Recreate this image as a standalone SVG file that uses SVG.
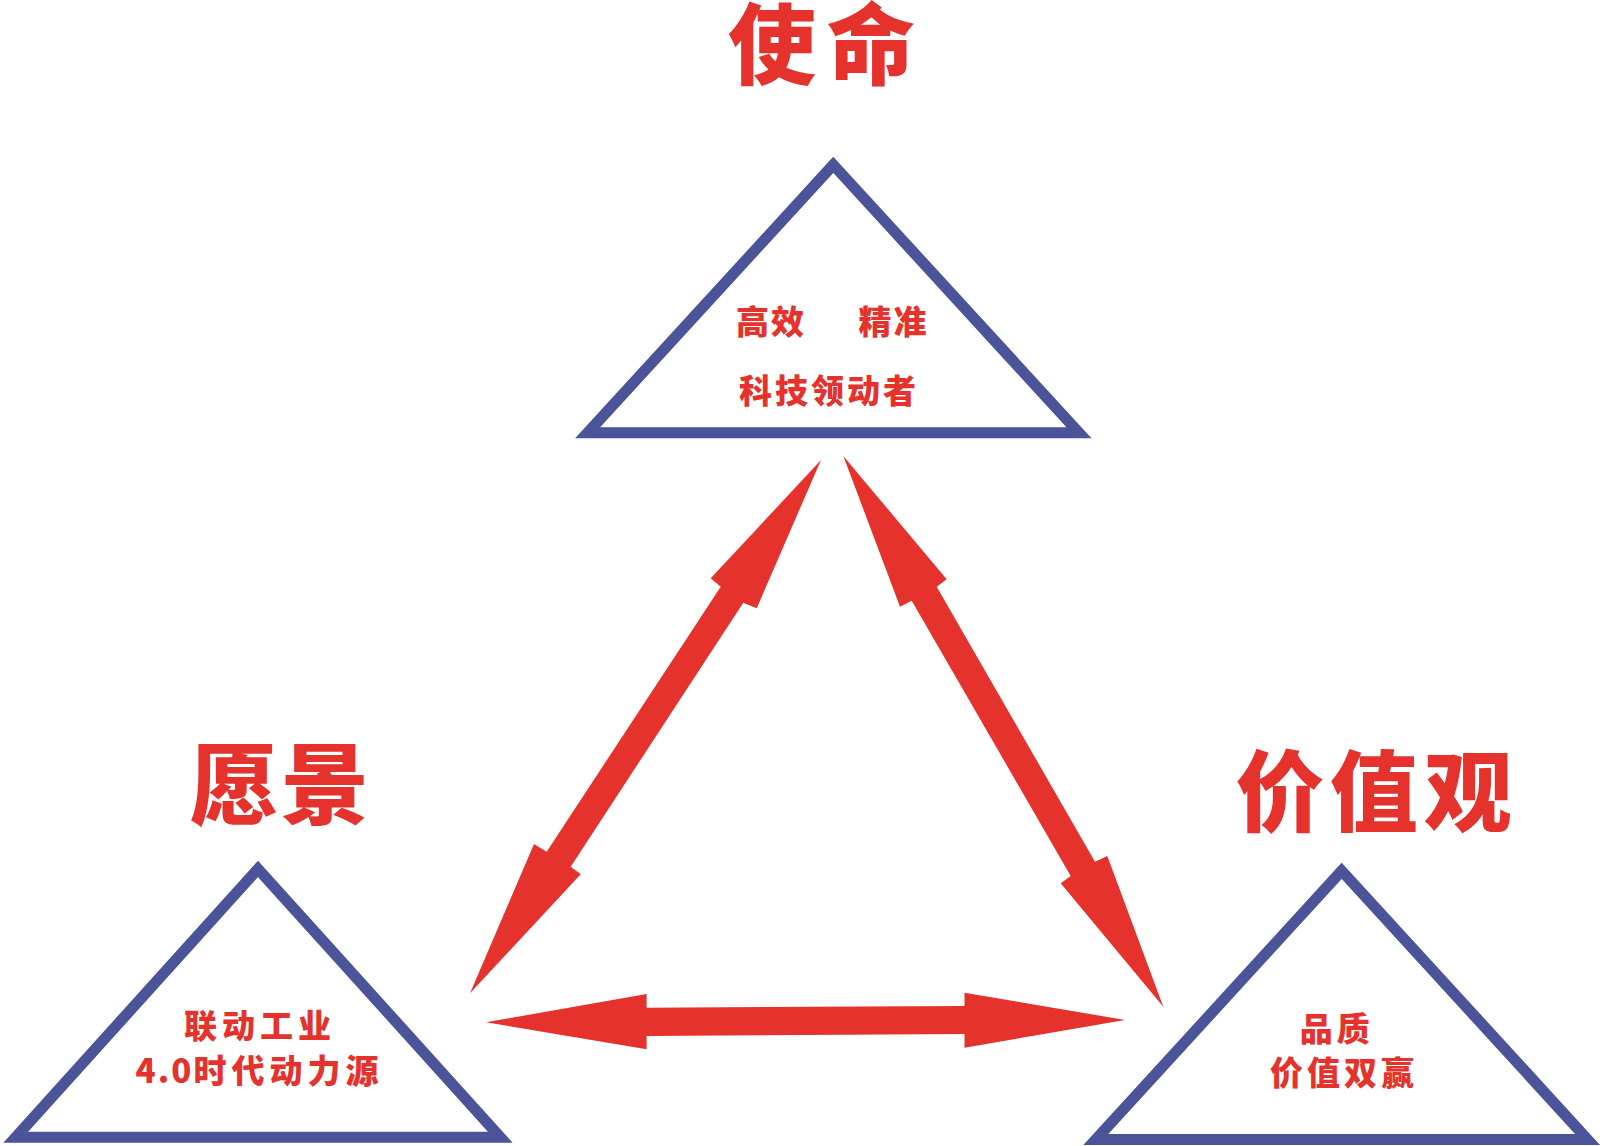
<svg xmlns="http://www.w3.org/2000/svg" width="1600" height="1146" viewBox="0 0 1600 1146">
<style>
.tri{fill:#ffffff;stroke:#4b5399;stroke-width:11;stroke-linejoin:miter;stroke-miterlimit:6}
.arrow{fill:#e5322c;stroke:none}
.title{font-family:"Noto Sans CJK SC","Noto Sans",sans-serif;font-weight:900;font-size:88px;fill:#e5322c;text-anchor:middle}
.sub{font-family:"Noto Sans CJK SC","Noto Sans",sans-serif;font-weight:900;font-size:33px;fill:#e5322c}
</style>
<rect width="1600" height="1146" fill="#ffffff"/>
<g id="mission">
<text class="title" x="827" y="77" font-size="79" letter-spacing="11">使命</text>
<polygon class="tri" points="833.3,164.8 587.6,432.8 1079,432.8"/>
<text class="sub" x="736" y="334" font-size="34" letter-spacing="2">高效</text>
<text class="sub" x="858.5" y="334" font-size="34" letter-spacing="2">精准</text>
<text class="sub" x="829" y="402.5" font-size="34" letter-spacing="3" text-anchor="middle">科技领动者</text>
</g>
<g id="vision">
<text class="title" x="281" y="817" letter-spacing="3">愿景</text>
<polygon class="tri" points="258,868.9 15.7,1137.2 500.3,1137.2"/>
<text class="sub" x="260" y="1038" letter-spacing="5" text-anchor="middle">联动工业</text>
<text class="sub" x="259.5" y="1083" letter-spacing="5" text-anchor="middle"><tspan letter-spacing="2">4.0</tspan>时代动力源</text>
</g>
<g id="values">
<text class="title" x="1377" y="824" letter-spacing="6">价值观</text>
<polygon class="tri" points="1341.7,870.8 1095.8,1139.5 1587.6,1139.5"/>
<text class="sub" x="1336.8" y="1041" letter-spacing="4" text-anchor="middle">品质</text>
<text class="sub" x="1344" y="1085" letter-spacing="4" text-anchor="middle">价值双赢</text>
</g>
<g id="connectors">
<polygon class="arrow" points="821,460 756.7,608.3 743.3,602.7 570.7,866.7 580.7,874.3 470,993.3 534,844 546.7,851.7 720.7,586.7 710.7,578.3"/>
<polygon class="arrow" points="843.3,456 946.7,579.3 936.7,586.7 1095,861.7 1107.3,856 1163.3,1006.7 1060.7,883.3 1070.7,876 911.7,600.7 900,606.7"/>
<polygon class="arrow" points="486,1022.3 646.6,994 646.6,1007.7 964.5,1006 964.5,992.7 1125.2,1020 964.5,1047.7 964.5,1034 646.6,1036 646.6,1049.3"/>
</g>
</svg>
